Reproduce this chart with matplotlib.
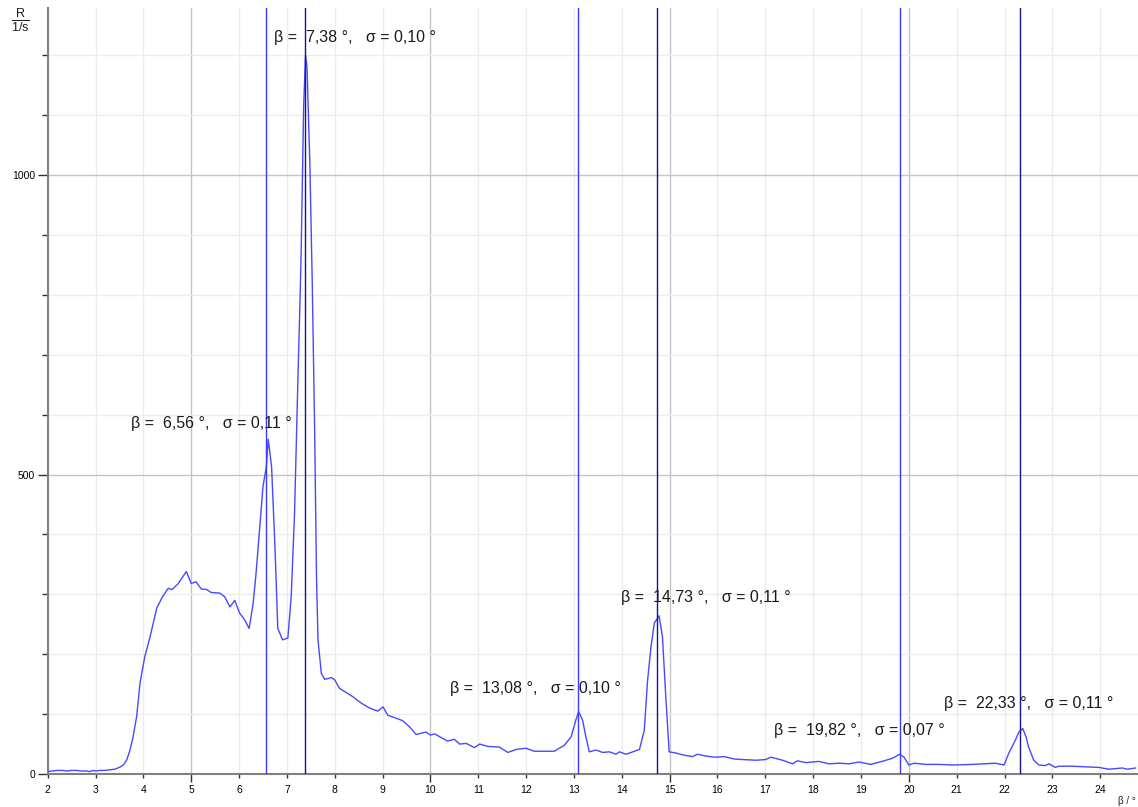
import numpy as np
import matplotlib.pyplot as plt
from matplotlib.ticker import MultipleLocator, FormatStrFormatter, NullFormatter

# measured spectrum: angle beta in degrees, rate R in 1/s
beta = [2.00, 2.10, 2.20, 2.30, 2.40, 2.50, 2.60, 2.70, 2.80, 2.88, 2.95, 3.00,
        3.10, 3.20, 3.30, 3.40, 3.50, 3.58, 3.65, 3.72, 3.78, 3.86, 3.93, 4.03,
        4.14, 4.28, 4.40, 4.52, 4.60, 4.73, 4.82, 4.90, 5.00, 5.10, 5.21, 5.32,
        5.42, 5.60, 5.70, 5.81, 5.91, 6.01, 6.12, 6.21, 6.29, 6.35, 6.40, 6.50,
        6.57, 6.61, 6.68, 6.75, 6.81, 6.91, 7.02, 7.09, 7.16, 7.23, 7.28, 7.30,
        7.35, 7.39, 7.42, 7.48, 7.53, 7.58, 7.62, 7.65, 7.72, 7.79, 7.93, 8.00,
        8.10, 8.24, 8.38, 8.56, 8.73, 8.90, 9.01, 9.11, 9.29, 9.42, 9.56, 9.70,
        9.81, 9.91, 10.00, 10.09, 10.22, 10.36, 10.50, 10.61, 10.75, 10.92, 11.03, 11.20,
        11.44, 11.62, 11.79, 12.00, 12.17, 12.42, 12.59, 12.80, 12.94, 13.04, 13.10, 13.18,
        13.25, 13.32, 13.46, 13.60, 13.74, 13.88, 13.95, 14.09, 14.23, 14.37, 14.47, 14.54,
        14.61, 14.68, 14.78, 14.85, 14.92, 14.99, 15.13, 15.27, 15.48, 15.58, 15.75, 15.95,
        16.15, 16.35, 16.55, 16.80, 17.00, 17.12, 17.36, 17.57, 17.67, 17.85, 18.12, 18.33,
        18.54, 18.75, 18.96, 19.20, 19.44, 19.65, 19.81, 19.90, 20.00, 20.11, 20.35, 20.63,
        20.91, 21.33, 21.81, 21.99, 22.09, 22.23, 22.30, 22.38, 22.45, 22.50, 22.61, 22.72,
        22.85, 22.93, 23.06, 23.13, 23.41, 23.69, 23.97, 24.18, 24.46, 24.57, 24.74]
rate = [4, 5, 6, 6, 5, 6, 6, 5, 5, 4, 6, 5,
        6, 6, 7, 8, 11, 15, 23, 40, 60, 96, 152, 196,
        229, 277, 296, 310, 308, 318, 329, 338, 318, 321, 309, 308,
        303, 302, 296, 279, 290, 269, 257, 243, 282, 330, 379, 480,
        513, 559, 513, 380, 243, 224, 227, 296, 435, 658, 808, 880,
        1114, 1200, 1181, 1020, 820, 574, 324, 224, 168, 158, 161, 157,
        143, 136, 129, 118, 110, 105, 112, 98, 93, 89, 79, 66,
        68, 70, 65, 67, 61, 55, 58, 50, 51, 44, 50, 46,
        45, 36, 41, 43, 38, 38, 38, 48, 62, 90, 104, 90,
        62, 37, 40, 36, 37, 33, 37, 33, 37, 41, 73, 157,
        212, 252, 264, 229, 129, 37, 35, 32, 29, 33, 30, 28,
        29, 25, 24, 23, 24, 28, 23, 17, 22, 19, 21, 17,
        18, 17, 20, 16, 21, 26, 33, 28, 15, 18, 16, 16,
        15, 16, 18, 15, 35, 57, 70, 76, 62, 46, 23, 15,
        14, 17, 11, 13, 13, 12, 11, 8, 10, 8, 10]

# fitted peaks: position and width
peak_pos = [6.56, 7.38, 13.08, 14.73, 19.82, 22.33]
peak_sigma = ["0,11", "0,10", "0,10", "0,11", "0,07", "0,11"]
peak_text_xy = [(3.74, 586), (6.73, 1229), (10.40, 142), (13.99, 294), (17.19, 72), (20.73, 117)]
peak_line_color = ["#3a3aff", "#14148c", "#3a3aff", "#14148c", "#3a3aff", "#14148c"]

plt.rcParams['font.family'] = ['Liberation Sans', 'DejaVu Sans']
plt.rcParams['mathtext.default'] = 'regular'

fig = plt.figure(figsize=(11.38, 8.07), dpi=100)
ax = fig.add_axes([0.0419, 0.0409, 0.9581, 0.9492])

ax.plot(beta, rate, color='#4848ff', linewidth=1.0, zorder=3)

for pos, col in zip(peak_pos, peak_line_color):
    ax.axvline(pos, color=col, linewidth=1.0, zorder=4)

for pos, sig, (tx, ty) in zip(peak_pos, peak_sigma, peak_text_xy):
    label = "\u03b2 =  " + ("%.2f" % pos).replace('.', ',') + " \u00b0,   \u03c3 = " + sig + " \u00b0"
    ax.text(tx, ty, label, fontsize=11.5, color='#1a1a1a', ha='left', va='center', zorder=5)

ax.set_xlim(2, 24.79)
ax.set_ylim(0, 1279)

# ticks: labelled integers on x, 500 steps on y
ax.xaxis.set_major_locator(MultipleLocator(5))
ax.xaxis.set_minor_locator(MultipleLocator(1))
ax.xaxis.set_major_formatter(FormatStrFormatter('%d'))
ax.xaxis.set_minor_formatter(FormatStrFormatter('%d'))
ax.yaxis.set_major_locator(MultipleLocator(500))
ax.yaxis.set_minor_locator(MultipleLocator(100))
ax.yaxis.set_minor_formatter(NullFormatter())

ax.tick_params(axis='x', which='major', length=6, width=1, color='#303030', labelsize=7.5, pad=2)
ax.tick_params(axis='x', which='minor', length=3, width=1, color='#303030', labelsize=7.5, pad=5)
ax.tick_params(axis='y', which='major', length=7, width=1, color='#303030', labelsize=7.5, pad=2)
ax.tick_params(axis='y', which='minor', length=4.5, width=1, color='#303030')

ax.grid(True, which='major', color='#c4c4c4', linewidth=1.0, zorder=0)
ax.grid(True, which='minor', color='#ececec', linewidth=1.0, zorder=0)
ax.set_axisbelow(True)

ax.spines['right'].set_color('none')
ax.spines['top'].set_color('none')
ax.spines['left'].set_color('#808080')
ax.spines['bottom'].set_color('#808080')
ax.spines['left'].set_linewidth(1.5)
ax.spines['bottom'].set_linewidth(1.5)

# axis units
fig.text(20 / 1138, 1 - 20 / 807, r'$\frac{R}{1/s}$', fontsize=13, ha='center', va='center', color='#202020')
fig.text(1127 / 1138, 1 - 801 / 807, "\u03b2 / \u00b0", fontsize=7, ha='center', va='center', color='#202020')

fig.savefig('out.png', dpi=100)
